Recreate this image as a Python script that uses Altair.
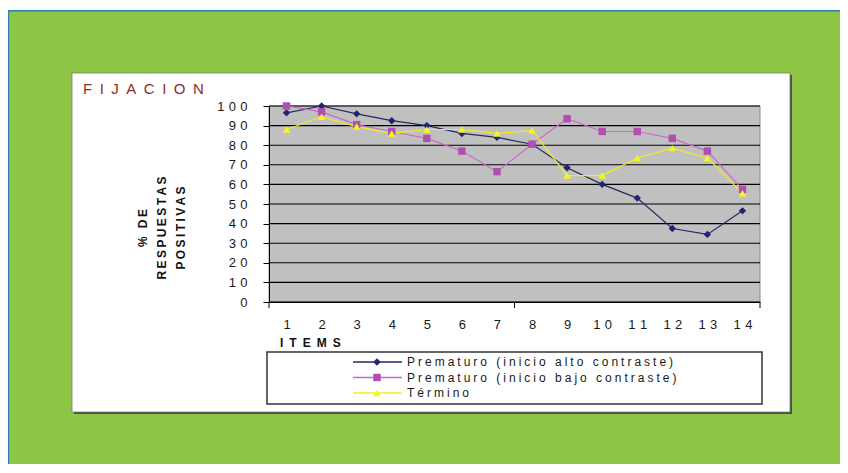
import altair as alt
import pandas as pd

# ---------------- data ----------------
ITEMS = list(range(1, 15))
SERIES = [
    "Prematuro (inicio alto contraste)",
    "Prematuro (inicio bajo contraste)",
    "Término",
]
ALTO = [96.5, 100, 96, 92.5, 90, 86, 84, 80.5, 68.5, 60, 53, 37.5, 34.5, 46.5]
BAJO = [100, 97, 90.5, 87, 83.5, 77, 66.5, 80.5, 93.5, 87, 87, 83.5, 77, 57.5]
TERMINO = [88, 94.5, 89.5, 86, 88, 88, 86, 87.5, 64.5, 64.5, 73.5, 78.5, 73.5, 55.5]
Y_TICKS = list(range(0, 101, 10))
X_BOUNDS = [0.5, 7.5, 14.5]

TITLE = "FIJACION"
Y_TITLE = ["% DE", "RESPUESTAS", "POSITIVAS"]
X_TITLE = "ITEMS"

# ---------------- styles ----------------
LINE_COLORS = ["#26295E", "#CC6ACC", "#F0F01A"]
MARK_COLORS = ["#1F2670", "#B24DB2", "#F6F61C"]
SHAPES = ["diamond", "square", "triangle-up"]
FONT = "Liberation Sans"
GREEN = "#8DC644"
BLUE = "#2C7CB8"

W, H = 491, 196
PAD = {"left": 261, "top": 98, "right": 80, "bottom": 162}

df = pd.DataFrame({
    "item": ITEMS * 3,
    "value": ALTO + BAJO + TERMINO,
    "series": [s for s in SERIES for _ in ITEMS],
})

SPACE_EXPR = "join(split(datum.label, ''), '\u2004')"
XS = alt.Scale(domain=[0.5, 14.5], nice=False, zero=False)
YS = alt.Scale(domain=[0, 100], nice=False)
XAXIS = alt.Axis(values=ITEMS, ticks=False, grid=False, domainColor="black",
                 domainWidth=1, labelPadding=16, labelExpr=SPACE_EXPR, title=None,
                 zindex=1, labelFontSize=13, labelColor="#1a1a1a", labelAngle=0,
                 labelFont=FONT)
YAXIS = alt.Axis(values=Y_TICKS, grid=False, tickColor="black", tickSize=6,
                 domainColor="black", domainWidth=1, labelPadding=16,
                 labelExpr=SPACE_EXPR, title=None, zindex=1, labelFontSize=13,
                 labelColor="#1a1a1a", labelFont=FONT)


def X():
    return alt.X("item:Q", scale=XS, axis=XAXIS)


def Y():
    return alt.Y("value:Q", scale=YS, axis=YAXIS)


def rect(x, x2, y, y2, **kw):
    return alt.Chart(alt.Data(values=[{}])).mark_rect(**kw).encode(
        x=alt.value(x), x2=alt.value(x2), y=alt.value(y), y2=alt.value(y2))


def spaced(s, sep):
    return sep.join(list(s))


# ---------------- decoration ----------------
top_white = rect(-262, 600, -99, -96, color="white")
top_blue = rect(-262, 600, -96, -94.5, color=BLUE)
left_blue = rect(-261, -259.8, -96, 370, color=BLUE)
shadow = rect(-195, 523, -31, 308, color="#4d4d4d")
panel = rect(-197, 521, -33, 306, fill="white", stroke="#7a7a7a", strokeWidth=0.8)
plot_bg = rect(0, W, 0, H, fill="#C0C0C0", stroke="#8a8a8a", strokeWidth=1)

grid = alt.Chart(pd.DataFrame({"value": Y_TICKS})).mark_rule(
    color="black", strokeWidth=1.1).encode(y=Y())
xticks = alt.Chart(pd.DataFrame({"item": X_BOUNDS})).mark_rule(
    color="black", strokeWidth=1).encode(x=X(), y=alt.value(H), y2=alt.value(H + 6))

# ---------------- series ----------------
lines = alt.Chart(df).mark_line(strokeWidth=1.2).encode(
    x=X(), y=Y(),
    stroke=alt.Stroke("series:N", scale=alt.Scale(domain=SERIES, range=LINE_COLORS), legend=None),
)
points = alt.Chart(df).mark_point(filled=True, opacity=1, size=55, strokeOpacity=0).encode(
    x=X(), y=Y(),
    fill=alt.Fill("series:N", scale=alt.Scale(domain=SERIES, range=MARK_COLORS), legend=None),
    shape=alt.Shape("series:N", scale=alt.Scale(domain=SERIES, range=SHAPES), legend=None),
)

# ---------------- legend ----------------
legend_box = rect(-2, 493, 246, 298, fill="white", stroke="#333333", strokeWidth=1.5)
legend_layers = []
for i, s in enumerate(SERIES):
    yrow = 256 + i * 15.5
    base = alt.Chart(alt.Data(values=[{"series": s}]))
    legend_layers.append(base.mark_rule(color=LINE_COLORS[i], strokeWidth=1.3).encode(
        x=alt.value(84), x2=alt.value(133), y=alt.value(yrow)))
    legend_layers.append(base.mark_point(filled=True, opacity=1, size=55, strokeOpacity=0,
                                         shape=SHAPES[i], color=MARK_COLORS[i]).encode(
        x=alt.value(108), y=alt.value(yrow)))
    legend_layers.append(base.transform_calculate(
        label="join(split(datum.series, ''), '\u2005')"
    ).mark_text(align="left", baseline="middle", fontSize=12, font=FONT,
                color="#1a1a1a").encode(
        x=alt.value(138), y=alt.value(yrow), text="label:N"))

# ---------------- texts ----------------
title = alt.Chart(alt.Data(values=[{}])).mark_text(
    align="left", baseline="middle", fontSize=15, font=FONT, color="#8E2B2B").encode(
    x=alt.value(-186), y=alt.value(-17), text=alt.value(spaced(TITLE, "\u2002")))
ytitle = alt.Chart(alt.Data(values=[{}])).mark_text(
    align="center", baseline="middle", fontSize=12, font=FONT, fontWeight="bold",
    angle=270, lineHeight=19, color="#111111").encode(
    x=alt.value(-126), y=alt.value(122),
    text=alt.value([spaced(t, "\u2009") for t in Y_TITLE]))
xtitle = alt.Chart(alt.Data(values=[{}])).mark_text(
    align="left", baseline="middle", fontSize=12, font=FONT, fontWeight="bold",
    color="#111111").encode(
    x=alt.value(11), y=alt.value(237), text=alt.value(spaced(X_TITLE, "\u2002")))

chart = alt.layer(
    top_white, top_blue, left_blue, shadow, panel, plot_bg, grid, xticks,
    lines, points, legend_box, *legend_layers, title, ytitle, xtitle,
).properties(
    width=W, height=H, padding=PAD,
    autosize=alt.AutoSizeParams(type="none"),
).configure(background=GREEN).configure_view(stroke=None)

chart.save("out.html", embed_options={"renderer": "svg", "actions": False})
